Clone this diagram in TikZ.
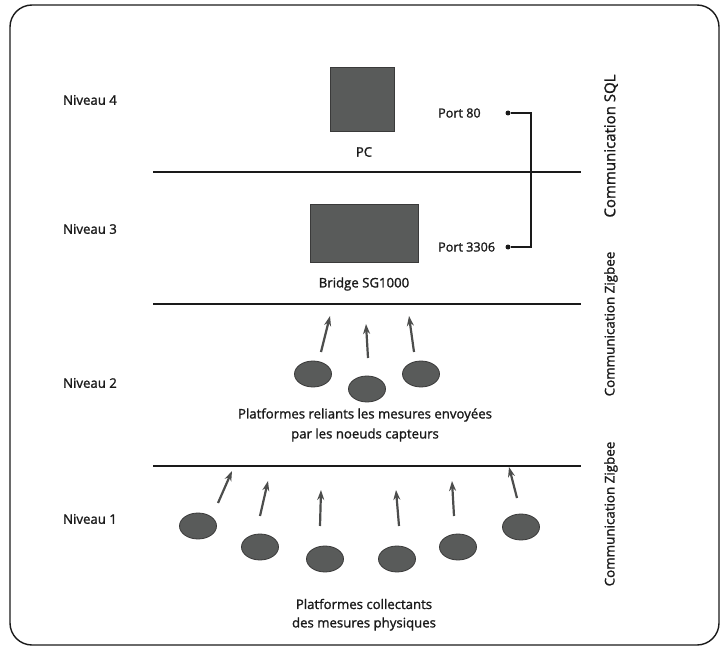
\documentclass[tikz,border=0pt]{standalone}
\usepackage{fontspec}
\setmainfont{Open Sans}[UprightFeatures={FakeBold=1.4}]
\usetikzlibrary{shapes.geometric,arrows.meta}
\definecolor{ink}{HTML}{1A1A1A}
\definecolor{device}{HTML}{595B5A}
\definecolor{devedge}{HTML}{3A3A3A}
\begin{document}
\begin{tikzpicture}[x=1pt,y=-1pt,
  frame/.style={draw=ink,line width=1.4pt,rounded corners=22pt},
  layer/.style={draw=ink,line width=2.2pt},
  devbox/.style={draw=devedge,fill=device,line width=0.8pt,inner sep=0pt},
  sensor/.style={ellipse,draw=devedge,fill=device,line width=0.8pt,inner sep=0pt,minimum width=37pt,minimum height=26pt},
  uplink/.style={draw=device!85!black,line width=2.2pt,-{Stealth[length=10pt,width=7pt]}},
  lbl/.style={font=\fontsize{13.2}{15}\selectfont,text=ink,inner sep=0pt},
  side/.style={font=\fontsize{13.4}{15}\selectfont,text=ink,rotate=90,inner sep=0pt},
  port/.style={font=\fontsize{12.6}{14}\selectfont,text=ink,inner sep=0pt,anchor=west},
  pin/.style={circle,fill=ink,inner sep=0pt,minimum size=5pt},
  wire/.style={draw=ink,line width=1.2pt}]
\useasboundingbox (0,0) rectangle (720,647);
\draw[frame] (10,5) rectangle (719,645);

% level labels
\node[lbl] (n4) at (90,100) {Niveau 4};
\node[lbl] (n3) at (90,229) {Niveau 3};
\node[lbl] (n2) at (90,383) {Niveau 2};
\node[lbl] (n1) at (90,519) {Niveau 1};

% layer separators
\coordinate (s1a) at (153,172); \coordinate (s1b) at (581,172);
\coordinate (s2a) at (153,304); \coordinate (s2b) at (581,304);
\coordinate (s3a) at (153,466); \coordinate (s3b) at (581,466);
\draw[layer] (s1a) -- (s1b);
\draw[layer] (s2a) -- (s2b);
\draw[layer] (s3a) -- (s3b);

% level 4 and 3 devices
\node[devbox,minimum width=64pt,minimum height=64pt] (pc) at (362,99) {};
\node[lbl] (pclbl) at (364,152) {PC};
\node[devbox,minimum width=108pt,minimum height=58pt] (bridge) at (364,233) {};
\node[lbl] (bridgelbl) at (364,284) {Bridge SG1000};

% SQL link between ports
\node[port] (p80) at (438,113) {Port 80};
\node[port] (p3306) at (438,247) {Port 3306};
\node[pin] (pin80) at (508,113) {};
\node[pin] (pin3306) at (508,247) {};
\coordinate (k1) at (531,113);
\coordinate (k2) at (531,247);
\draw[wire] (pin80) -- (k1) -- (k2) -- (pin3306);

% level 2 platforms
\node[sensor] (a1) at (313,374) {};
\node[sensor] (a2) at (367,389) {};
\node[sensor] (a3) at (421,374) {};
\coordinate (a1t) at (321,352); \coordinate (a1h) at (330,316);
\coordinate (a2t) at (368,358); \coordinate (a2h) at (366,324);
\coordinate (a3t) at (414,352); \coordinate (a3h) at (409,316);
\draw[uplink] (a1t) -- (a1h);
\draw[uplink] (a2t) -- (a2h);
\draw[uplink] (a3t) -- (a3h);
\node[lbl] (t2a) at (365,415) {Platformes reliants les mesures envoyées};
\node[lbl] (t2b) at (365,435) {par les noeuds capteurs};

% level 1 platforms
\node[sensor] (b1) at (198,526) {};
\node[sensor] (b2) at (260,547) {};
\node[sensor] (b3) at (325,559) {};
\node[sensor] (b4) at (397,559) {};
\node[sensor] (b5) at (458,547) {};
\node[sensor] (b6) at (521,527) {};
\coordinate (b1t) at (218,503); \coordinate (b1h) at (232,471);
\coordinate (b2t) at (260,516); \coordinate (b2h) at (268,481);
\coordinate (b3t) at (320,526); \coordinate (b3h) at (321,490);
\coordinate (b4t) at (399,526); \coordinate (b4h) at (396,490);
\coordinate (b5t) at (454,516); \coordinate (b5h) at (452,481);
\coordinate (b6t) at (517,498); \coordinate (b6h) at (509,467);
\draw[uplink] (b1t) -- (b1h);
\draw[uplink] (b2t) -- (b2h);
\draw[uplink] (b3t) -- (b3h);
\draw[uplink] (b4t) -- (b4h);
\draw[uplink] (b5t) -- (b5h);
\draw[uplink] (b6t) -- (b6h);
\node[lbl] (t1a) at (364,604) {Platformes collectants};
\node[lbl] (t1b) at (364,624) {des mesures physiques};

% communication labels
\node[side,font=\fontsize{15}{17}\selectfont] (csql) at (611,146) {Communication SQL};
\node[side] (czb1) at (611,324) {Communication Zigbee};
\node[side] (czb2) at (611,514) {Communication Zigbee};
\end{tikzpicture}
\end{document}
